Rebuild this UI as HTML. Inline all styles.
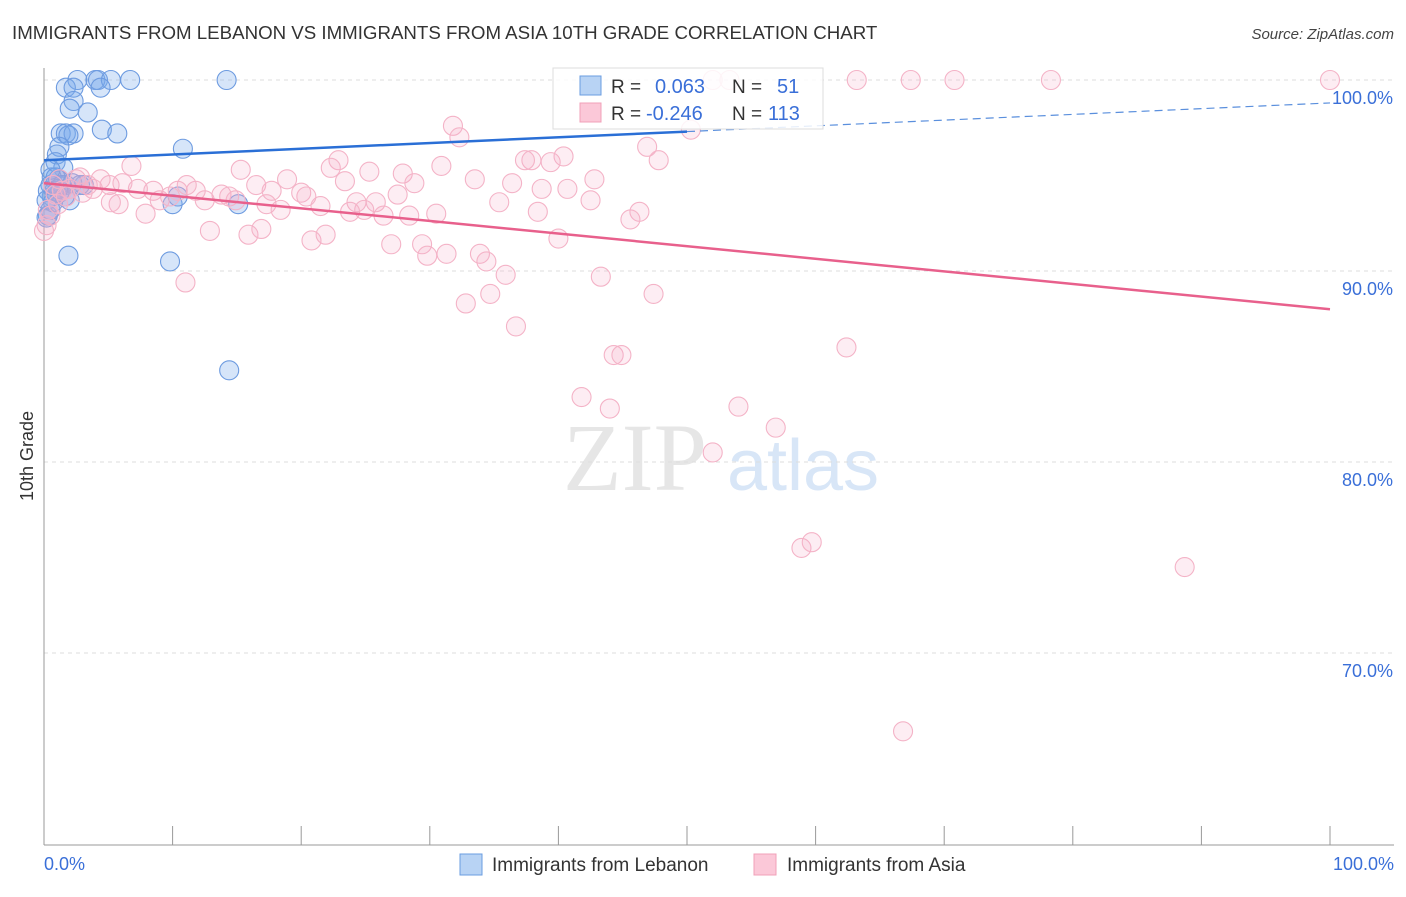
<!DOCTYPE html>
<html><head><meta charset="utf-8"><style>
body{margin:0;background:#fff;font-family:"Liberation Sans",sans-serif}
</style></head><body>
<svg id="chart" width="1406" height="892" xmlns="http://www.w3.org/2000/svg" font-family="Liberation Sans, sans-serif">
<text x="12" y="39" font-size="18.7" fill="#333">IMMIGRANTS FROM LEBANON VS IMMIGRANTS FROM ASIA 10TH GRADE CORRELATION CHART</text>
<text x="1394" y="39" font-size="15" fill="#444" text-anchor="end" font-style="italic">Source: ZipAtlas.com</text>
<text transform="translate(33,456) rotate(-90)" font-size="18" fill="#333" text-anchor="middle">10th Grade</text>
<g>
<text x="635" y="490" font-size="96" fill="#e6e6e6" text-anchor="middle" font-family="Liberation Serif, serif">ZIP</text>
<text x="803" y="490" font-size="72" fill="#d8e6f7" text-anchor="middle">atlas</text>
</g>
<g id="grid"></g>
<g id="axes"></g>
<g id="blue"></g>
<g id="pink"></g>
<g id="trends"></g>
<g>
<rect x="553" y="68" width="270" height="61" fill="#fff" fill-opacity="0.85" stroke="#ddd"/>
<rect x="580" y="76" width="21" height="19" fill="#b8d3f4" stroke="#6a9de0"/>
<rect x="580" y="103" width="21" height="19" fill="#fbc8d8" stroke="#f0a0b8"/>
<text x="611" y="93" font-size="19" fill="#333">R =</text>
<text x="655" y="93" font-size="20" fill="#3a6fd8">0.063</text>
<text x="732" y="93" font-size="19" fill="#333">N =</text>
<text x="777" y="93" font-size="20" fill="#3a6fd8">51</text>
<text x="611" y="120" font-size="19" fill="#333">R =</text>
<text x="646" y="120" font-size="20" fill="#3a6fd8">-0.246</text>
<text x="732" y="120" font-size="19" fill="#333">N =</text>
<text x="768" y="120" font-size="20" fill="#3a6fd8">113</text>
</g>
<g>
<rect x="460" y="854" width="22" height="21" fill="#b8d3f4" stroke="#6a9de0"/>
<text x="492" y="871" font-size="19" fill="#333">Immigrants from Lebanon</text>
<rect x="754" y="854" width="22" height="21" fill="#fbc8d8" stroke="#f0a0b8"/>
<text x="787" y="871" font-size="19" fill="#333">Immigrants from Asia</text>
</g>
</svg>
<script>
const yTicks=[100,90,80,70];
const yTickLabels=["100.0%","90.0%","80.0%","70.0%"];
const xTickLabels=["0.0%","100.0%"];
const blueX=[2.6,4.0,4.2,5.2,6.7,14.2,1.7,2.3,4.4,2.3,2.0,3.4,4.5,5.7,1.3,1.7,2.3,1.9,10.8,1.2,1.0,0.9,1.5,0.6,0.5,1.1,1.7,3.1,0.6,2.0,10.0,15.1,10.4,1.9,9.8,14.4,0.3,0.5,0.3,0.9,1.2,1.4,0.2,0.8,2.2,0.5,0.2,2.8,1.6,0.7,1.1];
const blueY=[100,100,100,100,100,100,99.6,99.6,99.6,98.9,98.5,98.3,97.4,97.2,97.2,97.2,97.2,97.1,96.4,96.5,96.1,95.7,95.4,94.9,94.5,94.8,94.5,94.5,93.9,93.7,93.5,93.5,93.9,90.8,90.5,84.8,92.9,93.2,94.2,94.9,94.1,94.5,93.7,94.2,94.6,95.3,92.8,94.5,93.9,93.6,94.3];
const pinkX=[53.3,52.0,63.2,67.4,70.8,78.3,100,31.8,32.3,50.3,46.9,47.8,40.4,37.9,37.4,39.4,30.9,22.9,22.3,25.3,27.9,15.3,6.8,33.5,28.8,23.4,36.4,42.8,38.7,40.7,16.5,18.9,17.7,20.0,20.4,13.8,11.8,11.1,10.4,8.5,7.3,5.1,6.1,4.4,3.4,2.5,3.8,3.0,14.4,14.9,17.3,18.4,21.5,24.3,25.8,27.5,35.4,42.5,46.3,45.6,38.4,30.5,28.4,26.4,24.9,23.8,12.5,7.9,5.8,5.2,9.0,9.8,12.9,15.9,16.9,20.8,21.9,27.0,29.4,29.8,31.3,33.9,34.4,40.0,35.9,43.3,34.7,47.4,32.8,11.0,36.7,44.3,44.9,62.4,41.8,44.0,54.0,56.9,52.0,58.9,59.7,88.7,66.8,0.2,0.5,1.1,0.9,1.4,2.0,1.7,0.3,2.8,0.7,1.2,0.0];
const pinkY=[100,100,100,100,100,100,100,97.6,97.0,97.4,96.5,95.8,96.0,95.8,95.8,95.7,95.5,95.8,95.4,95.2,95.1,95.3,95.5,94.8,94.6,94.7,94.6,94.8,94.3,94.3,94.5,94.8,94.2,94.1,93.9,94.0,94.2,94.5,94.2,94.2,94.3,94.5,94.6,94.8,94.5,94.8,94.3,94.1,93.9,93.7,93.5,93.2,93.4,93.6,93.6,94.0,93.6,93.7,93.1,92.7,93.1,93.0,92.9,92.9,93.2,93.1,93.7,93.0,93.5,93.6,93.7,93.9,92.1,91.9,92.2,91.6,91.9,91.4,91.4,90.8,90.9,90.9,90.5,91.7,89.8,89.7,88.8,88.8,88.3,89.4,87.1,85.6,85.6,86.0,83.4,82.8,82.9,81.8,80.5,75.5,75.8,74.5,65.9,92.4,92.9,93.5,94.0,94.2,94.3,93.9,93.2,94.9,94.5,94.8,92.1];
const blueTrend=[95.8,98.8];
const pinkTrend=[94.6,88.0];
const NS="http://www.w3.org/2000/svg";
const X=v=>44+v*12.86;
const Y=v=>80+(100-v)*19.1;
function mk(tag,attrs,parent){const e=document.createElementNS(NS,tag);for(const k in attrs)e.setAttribute(k,attrs[k]);document.getElementById(parent).appendChild(e);return e;}
yTicks.forEach((t,i)=>{
  const g=mk('line',{x1:44,x2:1394,y1:Y(t),y2:Y(t),stroke:'#ddd','stroke-dasharray':'4,4'},'grid');
  
  
  const l=mk('text',{x:1393,y:Y(t)+24,'font-size':18,fill:'#3a6fd8','text-anchor':'end'},'grid');
  l.textContent=yTickLabels[i];
  
  
});
const ax=mk('line',{x1:44,x2:44,y1:68,y2:845,stroke:'#999'},'axes');


const bx=mk('line',{x1:44,x2:1394,y1:845,y2:845,stroke:'#999'},'axes');


for(let i=0;i<=10;i++){const t=mk('line',{x1:X(i*10),x2:X(i*10),y1:826,y2:845,stroke:'#999'},'axes');

}
const x0=mk('text',{x:44,y:870,'font-size':18,fill:'#3a6fd8'},'axes');x0.textContent=xTickLabels[0];


const x1=mk('text',{x:1394,y:870,'font-size':18,fill:'#3a6fd8','text-anchor':'end'},'axes');x1.textContent=xTickLabels[1];


blueX.forEach((v,i)=>{const c=mk('circle',{cx:X(v),cy:Y(blueY[i]),r:9.5,fill:'rgba(120,170,235,0.3)',stroke:'#6d9be0','stroke-width':1.1},'blue');

});
pinkX.forEach((v,i)=>{const c=mk('circle',{cx:X(v),cy:Y(pinkY[i]),r:9.5,fill:'rgba(248,175,200,0.22)',stroke:'#f4b3c7','stroke-width':1.1},'pink');

});
const bm=blueTrend[0]+(blueTrend[1]-blueTrend[0])*0.5;
const t1=mk('line',{x1:X(0),y1:Y(blueTrend[0]),x2:X(50),y2:Y(bm),stroke:'#2a6fd6','stroke-width':2.5},'trends');


const t2=mk('line',{x1:X(50),y1:Y(bm),x2:X(100),y2:Y(blueTrend[1]),stroke:'#5a8fdd','stroke-width':1.2,'stroke-dasharray':'8,5'},'trends');


const t3=mk('line',{x1:X(0),y1:Y(pinkTrend[0]),x2:X(100),y2:Y(pinkTrend[1]),stroke:'#e8608c','stroke-width':2.5},'trends');


</script>
</body></html>
